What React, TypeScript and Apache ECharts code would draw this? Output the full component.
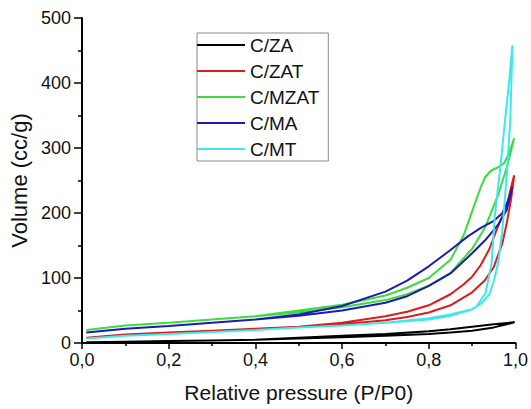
import React, { useEffect, useRef } from "react";
import * as echarts from "echarts";

const seriesNames = ["C/ZA", "C/ZAT", "C/MZAT", "C/MA", "C/MT"];
const seriesColors = ["#000000", "#e01a1a", "#3cdc3c", "#1c1cb4", "#3de8ec"];

const xTicks = [0, 0.2, 0.4, 0.6, 0.8, 1.0];

// C/ZA
const zaAdsP = [0.01, 0.1, 0.2, 0.3, 0.4, 0.5, 0.6, 0.7, 0.8, 0.85, 0.9, 0.95, 0.998];
const zaAdsV = [1, 2, 3, 4, 5, 7, 9, 11, 14, 16, 19, 24, 32];
const zaDesP = [0.998, 0.95, 0.9, 0.85, 0.8, 0.7, 0.6, 0.5, 0.4];
const zaDesV = [32, 29, 25, 21, 18, 14, 11, 8, 5];

// C/ZAT
const zatAdsP = [0.01, 0.1, 0.2, 0.3, 0.4, 0.5, 0.6, 0.7, 0.75, 0.8, 0.85, 0.9, 0.93, 0.95, 0.97, 0.98, 0.99, 0.997];
const zatAdsV = [8, 13, 16, 19, 22, 25, 29, 35, 40, 47, 58, 78, 97, 117, 154, 185, 222, 258];
const zatDesP = [0.997, 0.99, 0.98, 0.96, 0.94, 0.92, 0.9, 0.88, 0.85, 0.8, 0.75, 0.7, 0.6, 0.5];
const zatDesV = [258, 240, 212, 180, 145, 120, 102, 90, 75, 58, 48, 41, 31, 25];

// C/MZAT
const mzatAdsP = [0.01, 0.1, 0.2, 0.3, 0.4, 0.5, 0.6, 0.7, 0.75, 0.8, 0.85, 0.9, 0.93, 0.96, 0.98, 0.997];
const mzatAdsV = [20, 27, 31, 36, 41, 47, 55, 66, 75, 88, 108, 145, 178, 228, 270, 315];
const mzatDesP = [0.997, 0.985, 0.974, 0.959, 0.943, 0.93, 0.92, 0.905, 0.88, 0.85, 0.8, 0.75, 0.7, 0.6, 0.5, 0.4];
const mzatDesV = [315, 292, 277, 270, 265, 255, 240, 212, 165, 128, 100, 85, 73, 59, 50, 41];

// C/MA
const maAdsP = [0.01, 0.1, 0.2, 0.3, 0.4, 0.5, 0.6, 0.7, 0.75, 0.8, 0.85, 0.9, 0.93, 0.96, 0.98, 0.993];
const maAdsV = [16, 22, 26, 31, 36, 42, 50, 62, 72, 88, 107, 138, 158, 182, 205, 240];
const maDesP = [0.993, 0.985, 0.97, 0.95, 0.92, 0.89, 0.85, 0.8, 0.75, 0.7, 0.6, 0.5, 0.4];
const maDesV = [240, 222, 200, 188, 177, 164, 143, 118, 96, 79, 57, 44, 36];

// C/MT
const mtAdsP = [0.01, 0.1, 0.2, 0.3, 0.4, 0.5, 0.6, 0.7, 0.8, 0.85, 0.9, 0.92, 0.94, 0.95, 0.96, 0.97, 0.98, 0.988, 0.993];
const mtAdsV = [7, 11, 14, 17, 20, 24, 27, 31, 38, 44, 52, 60, 75, 95, 123, 175, 260, 343, 458];
const mtDesP = [0.993, 0.985, 0.976, 0.965, 0.952, 0.945, 0.931, 0.91, 0.897, 0.85, 0.8, 0.7, 0.6, 0.5];
const mtDesV = [458, 400, 343, 270, 194, 123, 77, 56, 51, 42, 36, 31, 27, 24];

const adsP = [zaAdsP, zatAdsP, mzatAdsP, maAdsP, mtAdsP];
const adsV = [zaAdsV, zatAdsV, mzatAdsV, maAdsV, mtAdsV];
const desP = [zaDesP, zatDesP, mzatDesP, maDesP, mtDesP];
const desV = [zaDesV, zatDesV, mzatDesV, maDesV, mtDesV];

const FONT = '"Liberation Sans", Arial, Helvetica, sans-serif';

export default function App() {
  const ref = useRef<HTMLDivElement>(null);
  useEffect(() => {
    document.body.style.margin = "0";
    if (!ref.current) return;
    const chart = echarts.init(ref.current, undefined, { renderer: "svg" });
    const series = seriesNames.map((name, i) => {
      const data: number[][] = [];
      adsP[i].forEach((p, k) => data.push([p, adsV[i][k]]));
      desP[i].forEach((p, k) => data.push([p, desV[i][k]]));
      return {
        name,
        type: "line",
        data,
        symbol: "none",
        showSymbol: false,
        smooth: false,
        lineStyle: { color: seriesColors[i], width: 2 },
        itemStyle: { color: seriesColors[i] },
      };
    });
    chart.setOption({
      animation: false,
      backgroundColor: "#ffffff",
      textStyle: { fontFamily: FONT },
      grid: { left: 82, right: 14, top: 18, bottom: 66 },
      legend: {
        orient: "vertical",
        left: 197,
        top: 33,
        padding: [2, 9, 2, 0],
        itemGap: 6,
        itemWidth: 48,
        itemHeight: 2,
        itemTextGap: 6,
        icon: "rect",
        borderColor: "#8a8a8a",
        borderWidth: 1,
        backgroundColor: "#ffffff",
        textStyle: { fontFamily: FONT, fontSize: 19, lineHeight: 20, color: "#111" },
        data: seriesNames,
      },
      xAxis: {
        type: "value",
        min: 0,
        max: 1,
        interval: 0.2,
        name: "Relative pressure (P/P0)",
        nameLocation: "middle",
        nameGap: 39,
        nameTextStyle: { fontFamily: FONT, fontSize: 21, color: "#111" },
        axisLine: { show: true, onZero: false, lineStyle: { color: "#000", width: 2 } },
        axisTick: { show: true, length: 6, lineStyle: { color: "#000", width: 1.5 } },
        minorTick: { show: true, splitNumber: 2, length: 3, lineStyle: { color: "#000", width: 1.5 } },
        splitLine: { show: false },
        axisLabel: {
          margin: 8,
          fontFamily: FONT,
          fontSize: 18,
          color: "#111",
          formatter: (v: number) => v.toFixed(1).replace(".", ","),
          customValues: xTicks,
        },
      },
      yAxis: {
        type: "value",
        min: 0,
        max: 500,
        interval: 100,
        name: "Volume (cc/g)",
        nameLocation: "middle",
        nameGap: 50,
        nameTextStyle: { fontFamily: FONT, fontSize: 22, color: "#111" },
        axisLine: { show: true, onZero: false, lineStyle: { color: "#000", width: 2 } },
        axisTick: { show: true, length: 8, lineStyle: { color: "#000", width: 1.5 } },
        minorTick: { show: true, splitNumber: 2, length: 4, lineStyle: { color: "#000", width: 1.5 } },
        splitLine: { show: false },
        axisLabel: { margin: 11, fontFamily: FONT, fontSize: 18, color: "#111" },
      },
      series,
    });
    return () => chart.dispose();
  }, []);
  return <div ref={ref} style={{ width: 531, height: 409 }} />;
}
